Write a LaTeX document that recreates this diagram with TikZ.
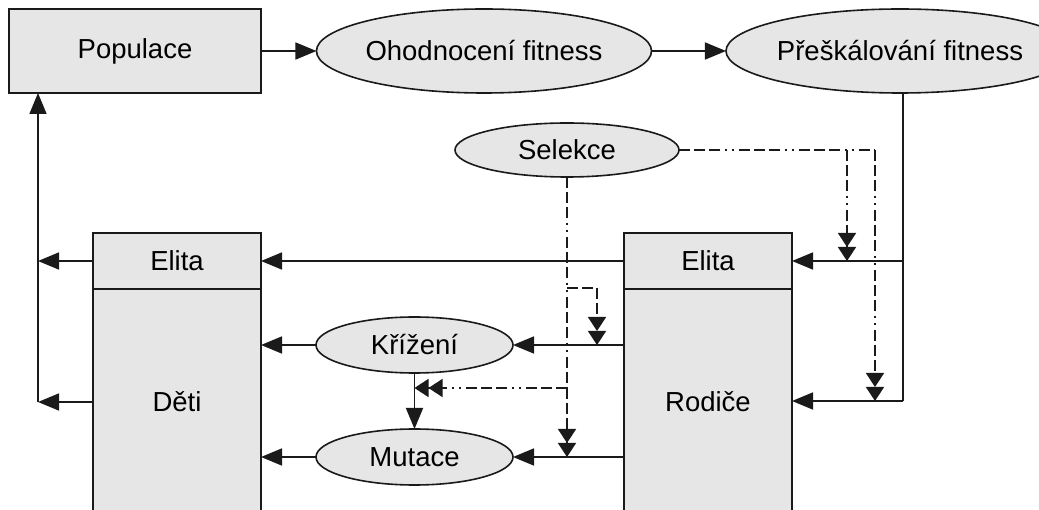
\documentclass[tikz,border=0pt]{standalone}
\usepackage{fontspec}
\setmainfont{Liberation Sans}
\usetikzlibrary{arrows.meta,shapes.geometric,calc}
\definecolor{boxfill}{HTML}{E6E6E6}
\definecolor{linec}{HTML}{1A1A1A}
\begin{document}
\begin{tikzpicture}[x=1pt,y=-1pt,
  every node/.style={font=\fontsize{27.5}{31}\selectfont, inner sep=0pt, outer sep=0pt},
  rbox/.style={draw=linec, line width=1.6pt, fill=boxfill, rectangle, minimum width=168pt},
  ell/.style={draw=linec, line width=1.6pt, fill=boxfill, ellipse},
  conn/.style={draw=linec, line width=1.6pt, -{Triangle[length=21pt,width=17pt]}},
  plain/.style={draw=linec, line width=1.6pt},
  dd/.style={draw=linec, line width=1.6pt, dash pattern=on 11pt off 4pt on 11pt off 4pt on 11pt off 5pt on 2pt off 5pt on 2pt off 5pt},
  ddarrow/.style={dd, -{Triangle[length=14pt,width=18pt]Triangle[length=14pt,width=18pt]}}
]
\clip (0,0) rectangle (1039,510);
\fill[white] (0,0) rectangle (1039,510);

% nodes
\node[rbox, minimum width=252pt, minimum height=84pt] (pop) at (135,51) {Populace};
\node[ell, minimum width=278pt, minimum height=84pt] (ohod) at (484,51) {Ohodnocení fitness};
\node[ell, minimum width=274pt, minimum height=84pt] (presk) at (900,51) {Přeškálování fitness};
\node[ell, minimum width=224pt, minimum height=54pt] (sel) at (567,150) {Selekce};

\node[rbox, minimum height=56pt] (delite) at (177,261) {Elita};
\node[rbox, minimum height=226pt] (deti) at (177,402) {Děti};
\node[rbox, minimum height=56pt] (relite) at (708,261) {Elita};
\node[rbox, minimum height=226pt] (rod) at (708,402) {Rodiče};

\node[ell, minimum width=197pt, minimum height=56pt] (kriz) at (414.5,345) {Křížení};
\node[ell, minimum width=197pt, minimum height=56pt] (mut) at (414.5,457) {Mutace};

% coordinates
\coordinate (R) at (903,401);
\coordinate (Rtop) at (903,93);
\coordinate (Re) at (903,261);
\coordinate (L) at (38,402);
\coordinate (Le) at (38,261);
\coordinate (Ltop) at (38,93);
\coordinate (S1) at (875,150);
\coordinate (S2) at (847,150);
\coordinate (S3) at (567,288);
\coordinate (S4) at (597,288);
\coordinate (S5) at (567,388);

% top row
\draw[conn] (pop.east) -- (ohod.west);
\draw[conn] (ohod.east) -- (presk.west);

% right feedback
\draw[plain] (Rtop) -- (R);
\draw[conn] (R) -- (rod.east |- R);
\draw[conn] (Re) -- (relite.east);

% elite transfer
\draw[conn] (relite.west) -- (delite.east);

% left return
\draw[conn] (delite.west) -- (Le);
\draw[conn] (deti.west) -- (L);
\draw[conn] (L) -- (Ltop);

% operators
\draw[conn] (rod.west |- kriz.east) -- (kriz.east);
\draw[conn] (kriz.west) -- (deti.east |- kriz.west);
\draw[conn] (rod.west |- mut.east) -- (mut.east);
\draw[conn] (mut.west) -- (deti.east |- mut.west);
\draw[conn] (kriz.south) -- (mut.north);

% selection control lines
\draw[dd] (sel.east) -- (S1);
\draw[ddarrow] (S1) -- (S1 |- R);
\draw[ddarrow] (S2) -- (S2 |- relite.east);
\draw[dd] (sel.south) -- (S5);
\draw[ddarrow] (S5) -- (sel.south |- mut.east);
\draw[dd] (S3) -- (S4);
\draw[ddarrow] (S4) -- (S4 |- kriz.east);
\draw[ddarrow] (S5) -- (kriz.south |- S5);
\end{tikzpicture}
\end{document}
